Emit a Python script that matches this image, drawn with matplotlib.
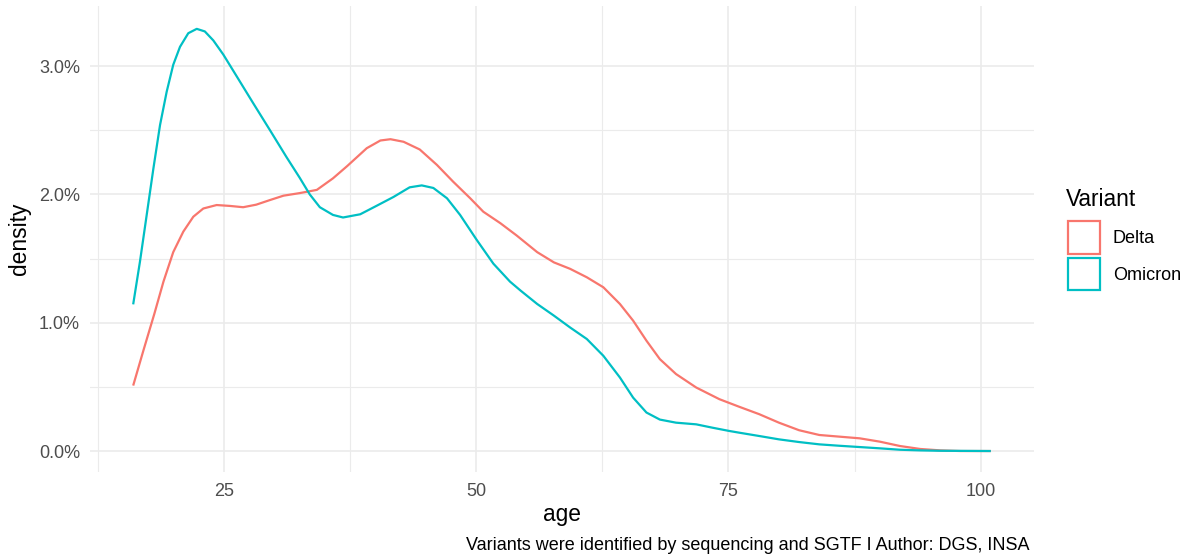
import matplotlib
matplotlib.use("Agg")
import matplotlib.pyplot as plt
from matplotlib.patches import Rectangle
from matplotlib.ticker import FuncFormatter, MultipleLocator

plt.rcParams['font.family'] = ['Liberation Sans', 'DejaVu Sans']

# values (age in years, density in %)
delta_age = [16.0, 17.0, 18.1, 19.0, 19.97, 20.97, 21.96, 22.95, 24.27, 25.6, 26.9,
             28.2, 29.56, 30.9, 32.5, 34.2, 35.8, 37.2, 39.15, 40.5, 41.5, 42.8,
             44.4, 46.1, 47.7, 49.4, 50.7, 52.4, 54.0, 56.04, 57.7, 59.3, 60.96,
             62.6, 64.24, 65.55, 66.87, 68.2, 69.8, 71.8, 74.1, 76.06, 78.05, 80.0,
             82.0, 84.0, 86.0, 88.0, 90.0, 92.0, 94.0, 96.0, 98.0, 101.0]
delta_dens = [0.51, 0.78, 1.07, 1.32, 1.55, 1.71, 1.826, 1.89, 1.917, 1.91, 1.90,
              1.92, 1.956, 1.99, 2.01, 2.035, 2.125, 2.22, 2.36, 2.42, 2.43, 2.41,
              2.35, 2.23, 2.10, 1.97, 1.865, 1.775, 1.68, 1.55, 1.47, 1.42, 1.354,
              1.276, 1.146, 1.016, 0.86, 0.716, 0.60, 0.495, 0.404, 0.345, 0.287, 0.221,
              0.162, 0.125, 0.112, 0.099, 0.073, 0.039, 0.016, 0.005, 0.0, 0.0]

omicron_age = [16.0, 16.67, 17.34, 18.0, 18.66, 19.32, 19.97, 20.64, 21.46, 22.3,
               23.1, 23.94, 24.93, 26.26, 27.9, 29.56, 31.2, 32.5, 33.5, 34.5, 35.8,
               36.8, 38.5, 40.1, 41.8, 43.4, 44.6, 45.75, 47.1, 48.4, 50.05, 51.7,
               53.35, 54.4, 56.04, 57.7, 59.3, 60.96, 62.6, 64.24, 65.55, 66.87, 68.2,
               69.8, 71.8, 73.4, 75.1, 76.06, 78.05, 80.0, 82.0, 84.0, 86.0, 88.0,
               90.0, 92.0, 94.0, 96.0, 101.0]
omicron_dens = [1.143, 1.475, 1.84, 2.20, 2.54, 2.80, 3.01, 3.15, 3.256, 3.29,
                3.27, 3.20, 3.09, 2.92, 2.71, 2.50, 2.29, 2.13, 2.0, 1.90, 1.84,
                1.82, 1.845, 1.91, 1.98, 2.055, 2.07, 2.05, 1.97, 1.84, 1.645, 1.46,
                1.32, 1.25, 1.146, 1.055, 0.963, 0.873, 0.742, 0.573, 0.416, 0.30, 0.245,
                0.221, 0.208, 0.182, 0.156, 0.143, 0.117, 0.091, 0.07, 0.052, 0.041, 0.031,
                0.021, 0.01, 0.005, 0.002, 0.0]

variants = ["Delta", "Omicron"]
colors = ["#F8766D", "#00BFC4"]
caption = "Variants were identified by sequencing and SGTF I Author: DGS, INSA"

W, H = 1186, 554
fig = plt.figure(figsize=(W / 100, H / 100), dpi=100)
# panel edges in pixels
pl, pr, pt, pb = 90.3, 1033.7, 6.4, 472.2
ax = fig.add_axes([pl / W, 1 - pb / H, (pr - pl) / W, (pb - pt) / H])

series = [(delta_age, delta_dens), (omicron_age, omicron_dens)]
for (a, d), c in zip(series, colors):
    ax.plot(a, [v / 100 for v in d], color=c, lw=1.6, solid_capstyle='butt',
            solid_joinstyle='round', zorder=3)

ax.set_xlim(11.75, 105.25)
ax.set_ylim(-0.00165, 0.03465)
ax.xaxis.set_major_locator(MultipleLocator(25))
ax.xaxis.set_minor_locator(MultipleLocator(12.5))
ax.yaxis.set_major_locator(MultipleLocator(0.01))
ax.yaxis.set_minor_locator(MultipleLocator(0.005))
ax.yaxis.set_major_formatter(FuncFormatter(lambda v, p: f"{v * 100:.1f}%"))

ax.grid(which='major', color='#EBEBEB', lw=1.2)
ax.grid(which='minor', color='#EBEBEB', lw=0.8)
ax.set_axisbelow(True)
for s in ax.spines.values():
    s.set_visible(False)
ax.tick_params(which='both', length=0, labelsize=13, labelcolor='#4D4D4D')
ax.tick_params(axis='x', pad=7.5)
ax.tick_params(axis='y', pad=7.5)

ax.set_xlabel("age", fontsize=16.4, va='center')
ax.xaxis.set_label_coords(0.5, (pb - 514) / (pb - pt))
ax.set_ylabel("density", fontsize=16.4, va='center')
ax.yaxis.set_label_coords((20 - pl) / (pr - pl), 0.5)

fig.text(1030 / W, 1 - 545 / H, caption, ha='right', va='center', fontsize=13)

# legend
fig.text(1066 / W, 1 - 200 / H, "Variant", ha='left', va='center', fontsize=16.4)
for i, (name, c) in enumerate(zip(variants, colors)):
    top = 221 + i * 36.5
    fig.add_artist(Rectangle((1067.5 / W, 1 - (top + 32.5) / H), 32.5 / W, 32.5 / H,
                             transform=fig.transFigure, facecolor='white',
                             edgecolor=c, lw=1.6))
    fig.text(1113 / W, 1 - (top + 17.5) / H, name, ha='left', va='center', fontsize=13)

fig.savefig("out.png", dpi=100)
